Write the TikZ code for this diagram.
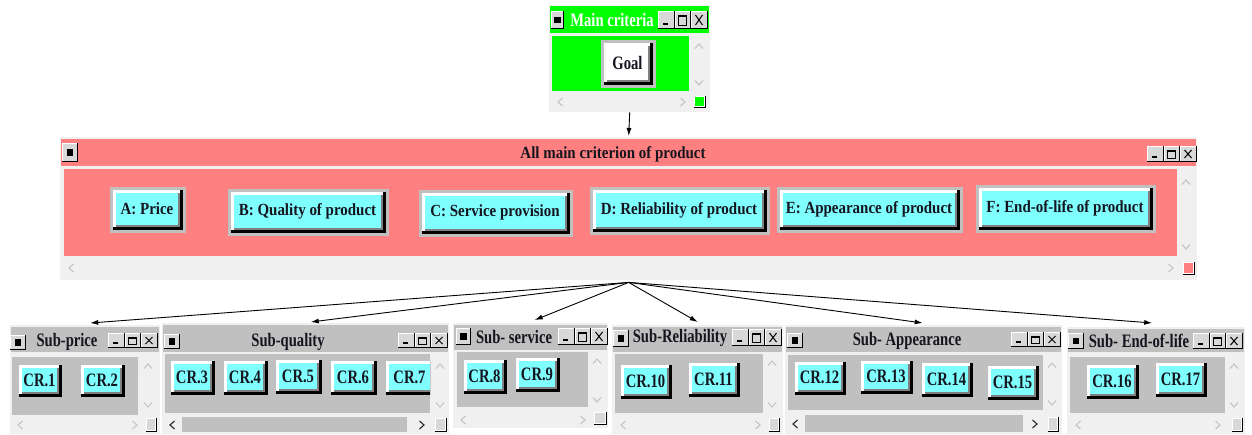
\documentclass[tikz,border=0pt]{standalone}
\usepackage{graphicx}
\usepackage{fontspec}
\setmainfont{Liberation Serif}
\usetikzlibrary{arrows.meta}
\definecolor{frm}{HTML}{F0F0F0}
\definecolor{sgray}{HTML}{C0C0C0}
\definecolor{cy}{HTML}{80FFFF}
\definecolor{pk}{HTML}{FF8080}
\definecolor{gr}{HTML}{00FF00}
\definecolor{dk}{HTML}{808080}
\definecolor{txt}{HTML}{15151F}
\definecolor{chev}{HTML}{C4C4C4}
\definecolor{btnface}{HTML}{D8D8D8}
\tikzset{
 lbl/.style={inner sep=0pt, text=txt},
 arr/.style={line width=0.9pt, -{Latex[length=8pt,width=5pt]}},
 chv/.style={draw=chev, line width=1.1pt},
 chd/.style={draw=black!85, line width=1.1pt},
 winframe/.style={fill=frm, inner sep=0pt, anchor=north west, draw=none},
}
\newcommand\tA[1]{\scalebox{0.88}[1]{\fontsize{17}{17}\selectfont\bfseries #1}}
\newcommand\tB[1]{\scalebox{0.77}[1]{\fontsize{19}{19}\selectfont\bfseries #1}}
\newcommand\crbtn[7]{%
 \fill[sgray] (#2,#3) rectangle (#4,#5);
 \fill[black] (#2+3,#3+3) rectangle (#4-3,#5-3);
 \fill[white] (#2+3,#3+3) rectangle (#4-6,#5-6);
 \fill[dk] (#2+6,#3+6) rectangle (#4-6,#5-6);
 \fill[#6] (#2+6,#3+6) rectangle (#4-8,#5-8);
 \node[lbl] (#1) at ({(#2+#4)/2-1},{(#3+#5)/2-1}) {#7};}
\newcommand\tbox[4]{%
 \fill[black] (#1,#2) rectangle (#1+#3,#2+#4);
 \fill[white] (#1,#2) rectangle (#1+#3-1,#2+#4-1);
 \fill[btnface] (#1+1,#2+1) rectangle (#1+#3-1,#2+#4-1);}
\newcommand\tribtn[3]{%
 \tbox{#1}{#2}{16.5}{#3}\tbox{#1+16.5}{#2}{16.5}{#3}\tbox{#1+33}{#2}{16.5}{#3}
 \fill[black] (#1+5,#2+#3-6) rectangle (#1+10,#2+#3-4);
 \draw[black, line width=0.9pt] (#1+20.5,#2+4) rectangle (#1+28.5,#2+#3-4);
 \fill[black] (#1+20.5,#2+4) rectangle (#1+28.5,#2+5.5);
 \draw[black, line width=1pt] (#1+37.5,#2+4) -- (#1+44.5,#2+#3-4);
 \draw[black, line width=1pt] (#1+37.5,#2+#3-4) -- (#1+44.5,#2+4);}
\newcommand\icob[4]{%
 \fill[black] (#1,#2) rectangle (#3,#4);
 \fill[white] (#1,#2) rectangle (#3-1,#4-1);
 \fill[btnface] (#1+1,#2+1) rectangle (#3-1,#4-1);
 \fill[black] ({(#1+#3)/2-3.5},{(#2+#4)/2-3.5}) rectangle ({(#1+#3)/2+3},{(#2+#4)/2+3});}
\newcommand\csq[5]{%
 \fill[black] (#1,#2) rectangle (#3,#4);
 \fill[white] (#1,#2) rectangle (#3-1.5,#4-1.5);
 \fill[#5] (#1+1,#2+1) rectangle (#3-2,#4-2);}
\newcommand\chU[2]{\draw[chv] (#1-4,#2+2.5) -- (#1,#2-2) -- (#1+4,#2+2.5);}
\newcommand\chD[2]{\draw[chv] (#1-4,#2-2.5) -- (#1,#2+2) -- (#1+4,#2-2.5);}
\newcommand\chL[3][chv]{\draw[#1] (#2+2.5,#3-4) -- (#2-2,#3) -- (#2+2.5,#3+4);}
\newcommand\chR[3][chv]{\draw[#1] (#2-2.5,#3-4) -- (#2+2,#3) -- (#2-2.5,#3+4);}
\begin{document}
\begin{tikzpicture}[x=1pt,y=-1pt]
\useasboundingbox (0,0) rectangle (1252,434);
\fill[white] (0,0) rectangle (1252,434);

% ---------- Main criteria window ----------
\node[winframe, minimum width=161, minimum height=107] (mainwin) at (549,5) {};
\fill[gr] (550,6) rectangle (709,33);
\icob{551}{11}{564}{29}
\node[lbl, text=white] (maintitle) at (612,20) {\tB{Main criteria}};
\tribtn{658}{11}{18}
\fill[gr] (552,36) rectangle (689,91);
\chU{699}{46} \chD{699}{83}
\chL{560}{102} \chR{683}{102}
\csq{694}{96}{706}{108}{gr}
\crbtn{goal}{601}{40}{656}{88}{white}{\tB{Goal}}

% ---------- All main criterion window ----------
\node[winframe, minimum width=1137, minimum height=143] (bigwin) at (60,137) {};
\fill[pk] (61,139) rectangle (1196,166);
\icob{62}{143}{78}{162}
\node[lbl] (bigtitle) at (613,154) {\tA{All main criterion of product}};
\tribtn{1147}{146}{16}
\fill[pk] (64,169) rectangle (1177,256);
\chU{1186}{182} \chD{1186}{247}
\chL{71}{268} \chR{1171}{268}
\csq{1183}{262}{1195}{275}{pk}
\crbtn{ca}{110}{187}{186}{233}{cy}{\tA{A: Price}}
\crbtn{cb}{228}{189}{389}{236}{cy}{\tA{B: Quality of product}}
\crbtn{cc}{419}{190}{573}{237}{cy}{\tA{C: Service provision}}
\crbtn{cd}{590}{187}{770}{235}{cy}{\tA{D: Reliability of product}}
\crbtn{ce}{777}{187}{963}{233}{cy}{\tA{E: Appearance of product}}
\crbtn{cf}{976}{185}{1156}{233}{cy}{\tA{F: End-of-life of product}}

% ---------- Sub-price ----------
\node[winframe, minimum width=150, minimum height=109] (subprice) at (10,325) {};
\fill[sgray] (11,327) rectangle (159,352);
\icob{10}{335}{26}{350}
\node[lbl] (tprice) at (67,342) {\tB{Sub-price}};
\tribtn{108}{333}{15}
\fill[sgray] (12,357) rectangle (138,415);
\chU{148}{366} \chD{148}{405}
\chL{20}{425} \chR{135}{425}
\csq{146}{418}{157}{432}{btnface}
\crbtn{cr1}{16}{362}{65}{400}{cy}{\tB{CR.1}}
\crbtn{cr2}{78}{362}{128}{400}{cy}{\tB{CR.2}}

% ---------- Sub-quality ----------
\node[winframe, minimum width=287, minimum height=111] (subquality) at (162,323) {};
\fill[sgray] (163,325) rectangle (448,352);
\icob{164}{334}{180}{349}
\node[lbl] (tquality) at (288,342) {\tB{Sub-quality}};
\tribtn{398}{333}{15}
\fill[sgray] (165,354) rectangle (430,413);
\chU{440}{366} \chD{440}{405}
\fill[sgray] (182,417) rectangle (407,432);
\chL[chd]{172}{425} \chR[chd]{422}{425}
\csq{435}{418}{447}{432}{btnface}
\crbtn{cr3}{168}{358}{218}{398}{cy}{\tB{CR.3}}
\crbtn{cr4}{221}{358}{271}{398}{cy}{\tB{CR.4}}
\crbtn{cr5}{273}{357}{325}{397}{cy}{\tB{CR.5}}
\crbtn{cr6}{328}{358}{380}{398}{cy}{\tB{CR.6}}
\begin{scope}
\clip (165,354) rectangle (430,413);
\crbtn{cr7}{383}{358}{438}{398}{cy}{\tB{CR.7}}
\end{scope}

% ---------- Sub- service ----------
\node[winframe, minimum width=155, minimum height=105] (subservice) at (453,323) {};
\fill[sgray] (454,325) rectangle (607,350);
\icob{456}{328}{471}{345}
\node[lbl] (tservice) at (514,337) {\tB{Sub- service}};
\tribtn{558}{328}{17}
\fill[sgray] (457,352) rectangle (588,407);
\chU{597}{361} \chD{597}{400}
\chL{463}{420} \chR{583}{420}
\csq{594}{412}{607}{425}{btnface}
\crbtn{cr8}{461}{357}{510}{397}{cy}{\tB{CR.8}}
\crbtn{cr9}{513}{355}{563}{395}{cy}{\tB{CR.9}}

% ---------- Sub-Reliability ----------
\node[winframe, minimum width=171, minimum height=109] (subrel) at (612,325) {};
\fill[sgray] (613,327) rectangle (782,352);
\icob{613}{330}{629}{347}
\node[lbl] (trel) at (680,338) {\tB{Sub-Reliability}};
\tribtn{732}{329}{17}
\fill[sgray] (615,354) rectangle (763,413);
\chU{772}{363} \chD{772}{405}
\chL{623}{425} \chR{758}{425}
\csq{769}{418}{780}{432}{btnface}
\crbtn{cr10}{618}{362}{675}{402}{cy}{\tB{CR.10}}
\crbtn{cr11}{686}{360}{743}{400}{cy}{\tB{CR.11}}

% ---------- Sub- Appearance ----------
\node[winframe, minimum width=277, minimum height=109] (subapp) at (785,325) {};
\fill[sgray] (786,327) rectangle (1061,352);
\icob{787}{333}{803}{348}
\node[lbl] (tapp) at (907,341) {\tB{Sub- Appearance}};
\tribtn{1011}{332}{15}
\fill[sgray] (788,355) rectangle (1043,410);
\chU{1052}{365} \chD{1052}{403}
\fill[sgray] (805,415) rectangle (1023,432);
\chL[chd]{795}{424} \chR[chd]{1035}{424}
\csq{1048}{417}{1059}{432}{btnface}
\crbtn{cr12}{792}{359}{849}{398}{cy}{\tB{CR.12}}
\crbtn{cr13}{858}{358}{916}{397}{cy}{\tB{CR.13}}
\crbtn{cr14}{919}{360}{976}{400}{cy}{\tB{CR.14}}
\crbtn{cr15}{985}{363}{1042}{403}{cy}{\tB{CR.15}}

% ---------- Sub- End-of-life ----------
\node[winframe, minimum width=178, minimum height=107] (subeol) at (1067,327) {};
\fill[sgray] (1068,329) rectangle (1244,352);
\icob{1068}{333}{1084}{349}
\node[lbl] (teol) at (1139,341) {\tB{Sub- End-of-life}};
\tribtn{1193}{333}{16}
\fill[sgray] (1070,357) rectangle (1225,413);
\chU{1234}{366} \chD{1234}{405}
\chL{1078}{425} \chR{1218}{425}
\csq{1232}{418}{1243}{432}{btnface}
\crbtn{cr16}{1084}{362}{1142}{402}{cy}{\tB{CR.16}}
\crbtn{cr17}{1153}{360}{1210}{400}{cy}{\tB{CR.17}}

% ---------- connectors ----------
\draw[arr] (mainwin.south) -- ([yshift=1pt]bigwin.north);
\draw[arr] ([yshift=-2pt]bigwin.south) -- ([xshift=5pt,yshift=2pt]subprice.north);
\draw[arr] ([yshift=-2pt]bigwin.south) -- ([xshift=5pt,yshift=1pt]subquality.north);
\draw[arr] ([yshift=-2pt]bigwin.south) -- ([xshift=4pt,yshift=3pt]subservice.north);
\draw[arr] ([yshift=-2pt]bigwin.south) -- ([yshift=3pt]subrel.north);
\draw[arr] ([yshift=-2pt]bigwin.south) -- ([xshift=-1pt,yshift=2pt]subapp.north);
\draw[arr] ([yshift=-2pt]bigwin.south) -- ([xshift=-4pt,yshift=4pt]subeol.north);
\end{tikzpicture}
\end{document}
